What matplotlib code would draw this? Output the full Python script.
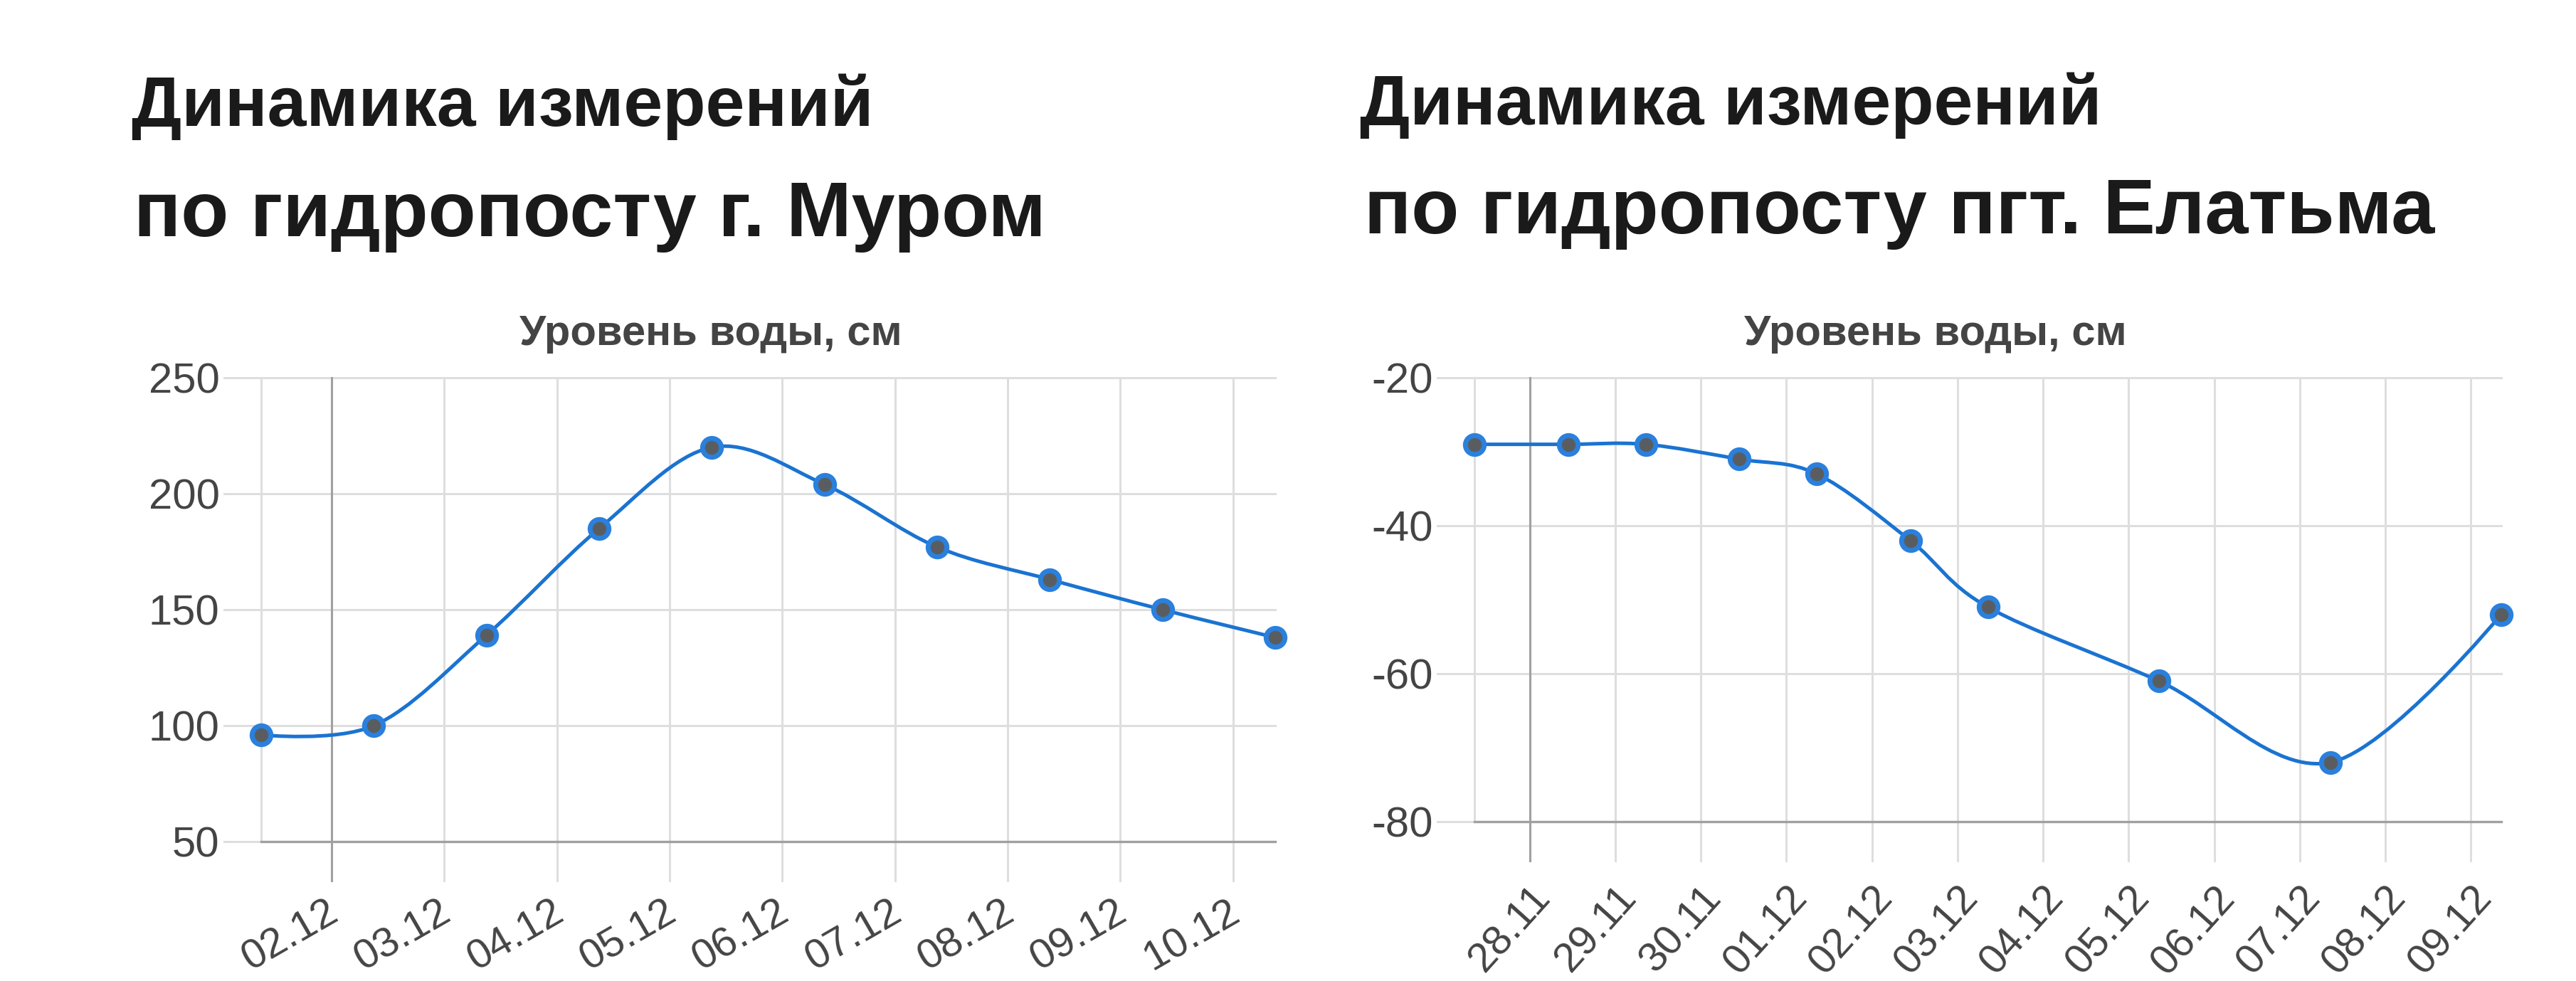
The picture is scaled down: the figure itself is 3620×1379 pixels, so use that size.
import numpy as np
import matplotlib
matplotlib.use("Agg")
import matplotlib.pyplot as plt
import matplotlib.dates as mdates
import matplotlib.transforms as mtransforms
from matplotlib.path import Path
from matplotlib.patches import PathPatch

plt.rcParams['font.family'] = ['Liberation Sans', 'DejaVu Sans']

# --- data ---
murom_times = ['2023-12-01 09:00', '2023-12-02 09:00', '2023-12-03 09:00', '2023-12-04 09:00',
               '2023-12-05 09:00', '2023-12-06 09:00', '2023-12-07 09:00', '2023-12-08 09:00',
               '2023-12-09 09:00', '2023-12-10 09:00']
murom_levels = [96, 100, 139, 185, 220, 204, 177, 163, 150, 138]
murom_ticks = ['2023-12-02', '2023-12-03', '2023-12-04', '2023-12-05', '2023-12-06',
               '2023-12-07', '2023-12-08', '2023-12-09', '2023-12-10']
murom_yticks = [50, 100, 150, 200, 250]

elatma_times = ['2023-11-27 08:30', '2023-11-28 10:45', '2023-11-29 08:30', '2023-11-30 10:45',
                '2023-12-01 08:30', '2023-12-02 10:45', '2023-12-03 08:30', '2023-12-05 08:30',
                '2023-12-07 08:30', '2023-12-09 08:30']
elatma_levels = [-29, -29, -29, -31, -33, -42, -51, -61, -72, -52]
elatma_ticks = ['2023-11-28', '2023-11-29', '2023-11-30', '2023-12-01', '2023-12-02', '2023-12-03',
                '2023-12-04', '2023-12-05', '2023-12-06', '2023-12-07', '2023-12-08', '2023-12-09']
elatma_yticks = [-80, -60, -40, -20]

LINE = '#1a73d1'
GRID = '#dedede'
DARK = '#a0a0a0'
TXT = '#444444'

W, H = 3620, 1379
fig = plt.figure(figsize=(W / 100, H / 100), dpi=100)


def smooth_path(x, y):
    # cubic bezier through the points (like curveType: 'function')
    verts = [(x[0], y[0])]
    codes = [Path.MOVETO]
    n = len(x)
    def tangent(i):
        if i == 0 or i == n - 1:
            return 0.0, 0.0
        return (x[i + 1] - x[i - 1]) / 6.0, (y[i + 1] - y[i - 1]) / 6.0
    for i in range(n - 1):
        t0 = tangent(i)
        t1 = tangent(i + 1)
        verts += [(x[i] + t0[0], y[i] + t0[1]), (x[i + 1] - t1[0], y[i + 1] - t1[1]), (x[i + 1], y[i + 1])]
        codes += [Path.CURVE4] * 3
    return Path(verts, codes)


def draw_chart(rect, times, levels, ticks, yticks, rot, xpad, dx, title_x):
    ax = fig.add_axes(rect)
    xs = mdates.date2num(np.array(times, dtype='datetime64[m]'))
    tk = mdates.date2num(np.array(ticks, dtype='datetime64[D]'))
    ax.set_xlim(xs[0], xs[-1])
    ax.set_ylim(yticks[0], yticks[-1])
    for s in ax.spines.values():
        s.set_visible(False)

    ext = 52 / (rect[2] * W)
    vext = 55 / (rect[3] * H)
    for i, yv in enumerate(yticks):
        if i == 0:
            ax.axhline(yv, -ext, 0, color=GRID, lw=2.2, clip_on=False, zorder=1)
            ax.axhline(yv, 0, 1, color=DARK, lw=2.4, clip_on=False, zorder=1.5)
        else:
            ax.axhline(yv, -ext, 1, color=GRID, lw=2.2, clip_on=False, zorder=1)
    ax.axvline(xs[0], 0, 1, color=GRID, lw=2.2, clip_on=False, zorder=1)
    for i, t in enumerate(tk):
        ax.axvline(t, -vext, 1, color=DARK if i == 0 else GRID, lw=2.2, clip_on=False,
                   zorder=1.4 if i == 0 else 1)

    ax.add_patch(PathPatch(smooth_path(xs, levels), fill=False, edgecolor=LINE, lw=3.6, zorder=3))
    ax.plot(xs, levels, ls='none', marker='o', ms=19, mfc='#5a5d60', mec='#2a80dc', mew=5,
            zorder=4, clip_on=False)

    ax.set_yticks(yticks)
    ax.set_yticklabels([str(v) for v in yticks])
    ax.set_xticks(tk)
    ax.set_xticklabels([t[8:10] + '.' + t[5:7] for t in ticks],
                       rotation=rot, ha='right', va='top', rotation_mode='anchor')
    ax.tick_params(axis='y', length=0, pad=42, labelsize=43, labelcolor=TXT)
    ax.tick_params(axis='x', length=0, pad=xpad, labelsize=42, labelcolor=TXT)
    shift = mtransforms.ScaledTranslation(dx / 100, 0, fig.dpi_scale_trans)
    for lab in ax.get_xticklabels():
        lab.set_transform(lab.get_transform() + shift)
    fig.text(title_x / W, 1 - 485 / H, 'Уровень воды, см', ha='center', va='baseline',
             fontsize=43, fontweight='bold', color=TXT)
    return ax


draw_chart([367 / W, 1 - 1183 / H, 1425 / W, 652 / H], murom_times, murom_levels,
           murom_ticks, murom_yticks, 30, 52, -8, 999)
draw_chart([2072 / W, 1 - 1155 / H, 1443 / W, 624 / H], elatma_times, elatma_levels,
           elatma_ticks, elatma_yticks, 48, 58, 0, 2720)

fig.text(185 / W, 1 - 177 / H, 'Динамика измерений', fontsize=71, fontweight='bold',
         color='#1a1a1a', va='baseline')
fig.text(188 / W, 1 - 332 / H, 'по гидропосту г. Муром', fontsize=79, fontweight='bold',
         color='#1a1a1a', va='baseline')
fig.text(1911 / W, 1 - 175 / H, 'Динамика измерений', fontsize=71, fontweight='bold',
         color='#1a1a1a', va='baseline')
fig.text(1917 / W, 1 - 328 / H, 'по гидропосту пгт. Елатьма', fontsize=79, fontweight='bold',
         color='#1a1a1a', va='baseline')

fig.savefig('out.png', dpi=100, facecolor='white')
